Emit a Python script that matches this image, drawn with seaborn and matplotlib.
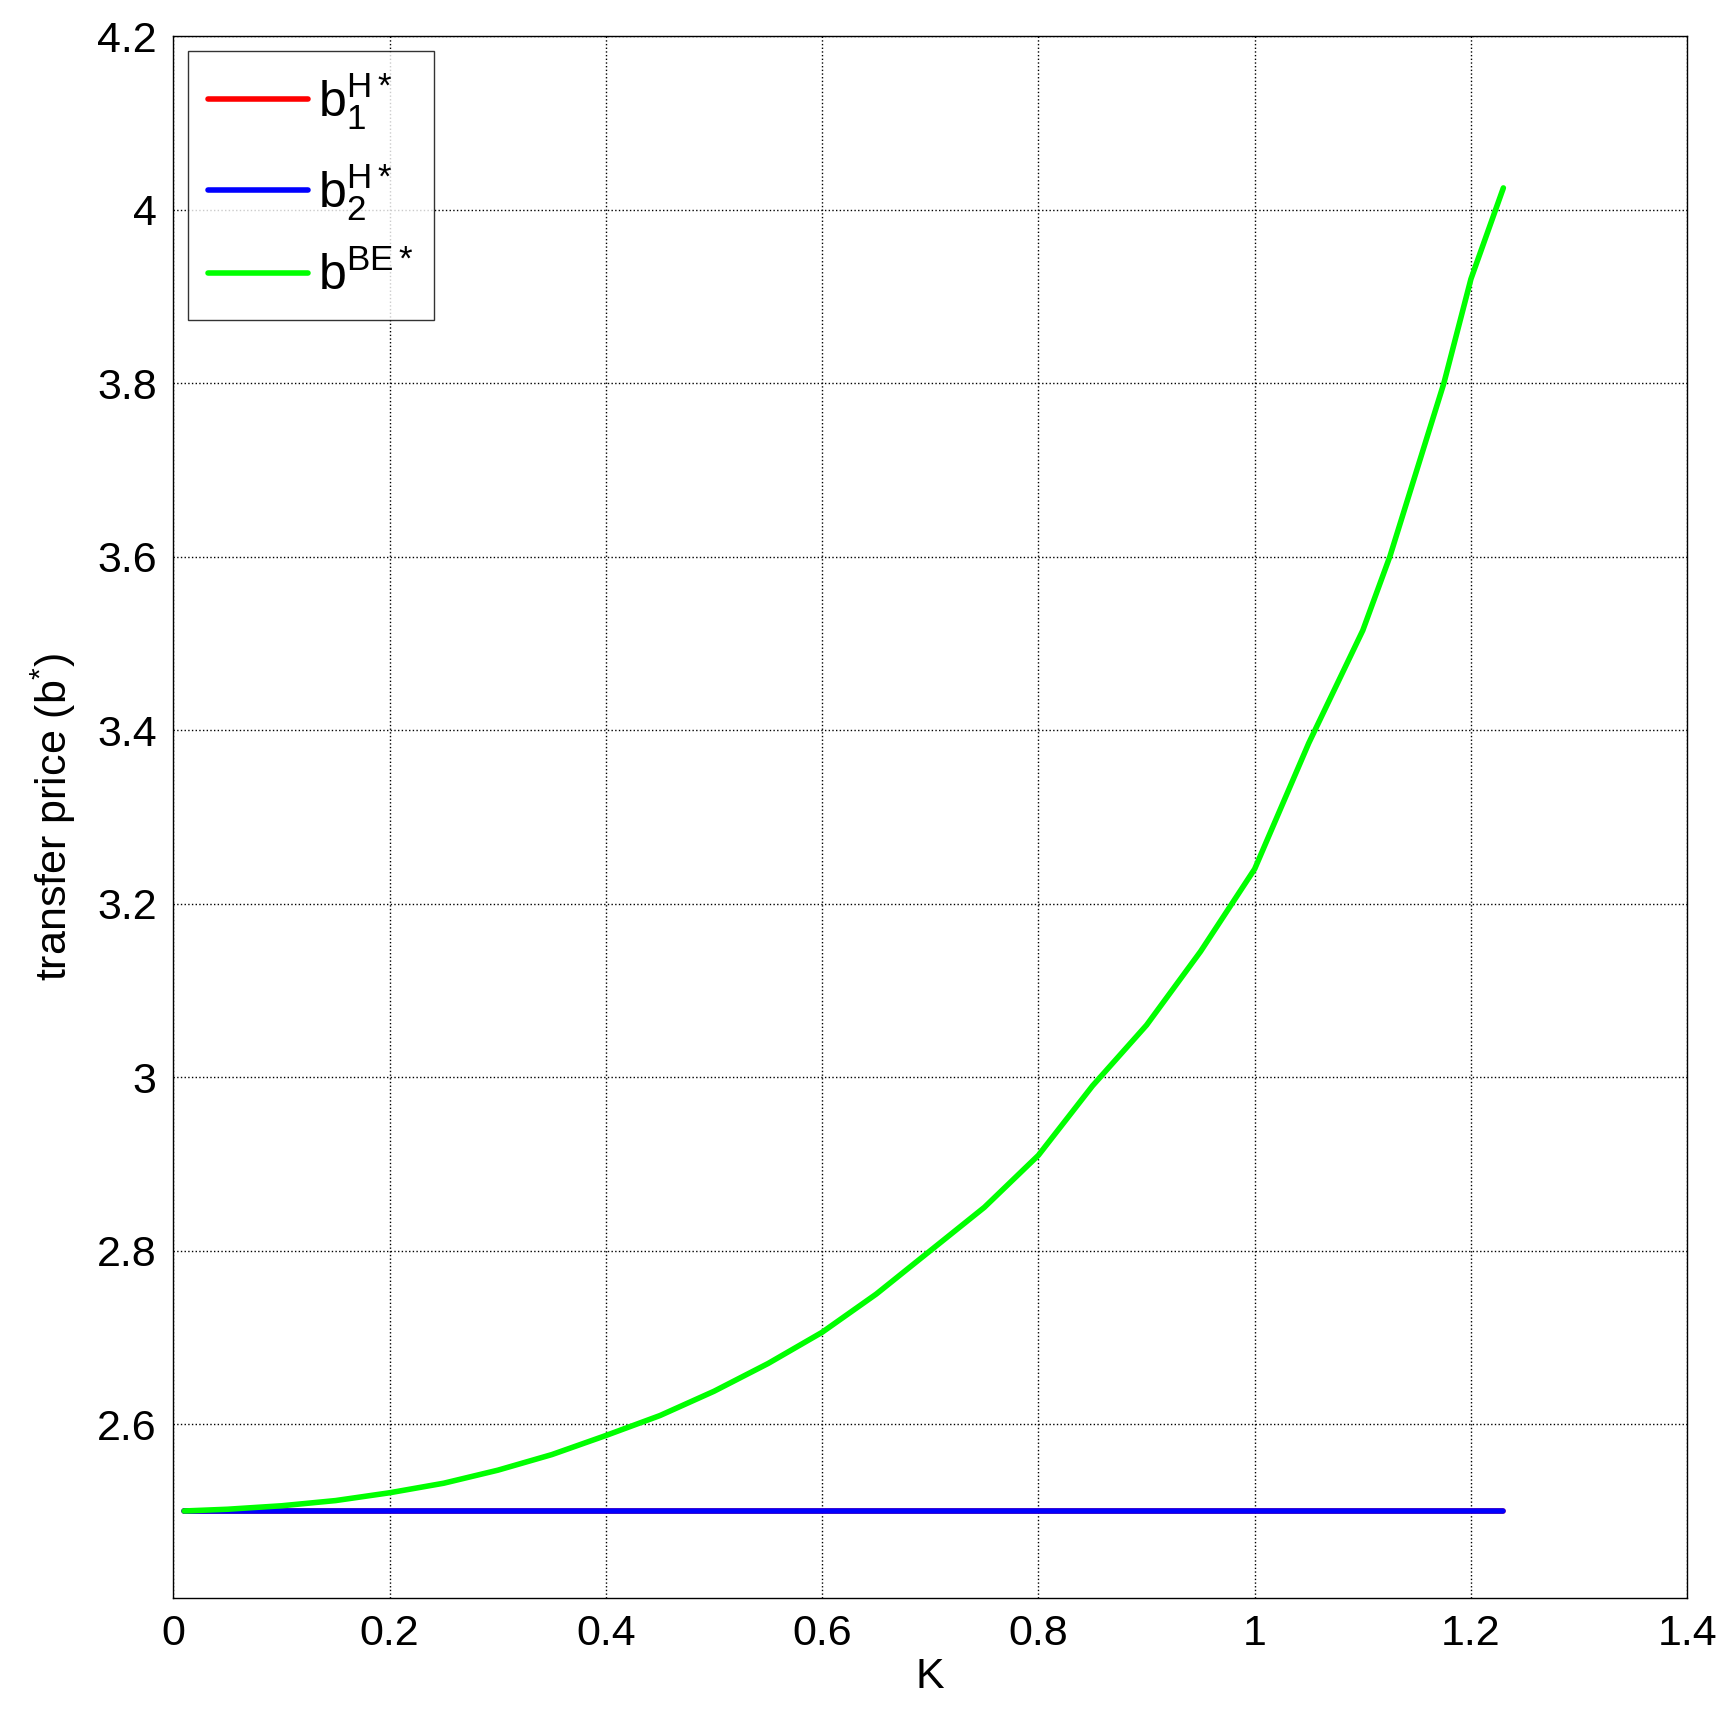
import numpy as np
import seaborn as sns
from matplotlib import pyplot as plt

# values
k = [0.01, 0.05, 0.1, 0.15, 0.2, 0.25, 0.3, 0.35, 0.4, 0.45, 0.5, 0.55, 0.6, 0.65,
     0.7, 0.75, 0.8, 0.85, 0.9, 0.95, 1.0, 1.05, 1.1, 1.125, 1.15, 1.175, 1.2, 1.23]
b_be = [2.5, 2.502, 2.506, 2.512, 2.521, 2.532, 2.547, 2.565, 2.587, 2.61, 2.638, 2.67,
        2.706, 2.75, 2.80, 2.85, 2.91, 2.99, 3.06, 3.145, 3.24, 3.385, 3.515, 3.60,
        3.70, 3.80, 3.92, 4.025]
b1_h = [2.5] * len(k)
b2_h = [2.5] * len(k)

sns.set_style('white')
plt.rcParams['font.family'] = ['Liberation Sans', 'DejaVu Sans']
plt.rcParams['mathtext.fontset'] = 'custom'
plt.rcParams['mathtext.rm'] = 'Liberation Sans'
plt.rcParams['mathtext.it'] = 'Liberation Sans'
plt.rcParams['text.color'] = 'black'
plt.rcParams['axes.labelcolor'] = 'black'
plt.rcParams['xtick.color'] = 'black'
plt.rcParams['ytick.color'] = 'black'

fig = plt.figure(figsize=(17.34, 17.18), dpi=100)
ax = fig.add_axes([0.1, 0.07, 0.873, 0.909])

sns.lineplot(x=k, y=b1_h, color='#ff0000', lw=4, label=r'$\mathregular{b_1^{H*}}$', ax=ax)
sns.lineplot(x=k, y=b2_h, color='#0000ff', lw=4, label=r'$\mathregular{b_2^{H*}}$', ax=ax)
sns.lineplot(x=k, y=b_be, color='#00ff00', lw=4, label=r'$\mathregular{b^{BE*}}$', ax=ax)

ax.set_xlim(0, 1.4)
ax.set_ylim(2.4, 4.2)
ax.set_xticks(np.arange(0, 1.41, 0.2))
ax.set_xticklabels(['0', '0.2', '0.4', '0.6', '0.8', '1', '1.2', '1.4'])
ax.set_yticks([2.6, 2.8, 3.0, 3.2, 3.4, 3.6, 3.8, 4.0, 4.2])
ax.set_yticklabels(['2.6', '2.8', '3', '3.2', '3.4', '3.6', '3.8', '4', '4.2'])
ax.grid(True, color='black', linestyle=':', linewidth=1)
ax.tick_params(labelsize=31, direction='in', length=8, pad=12)
for s in ax.spines.values():
    s.set_color('black')
    s.set_linewidth(1)
ax.set_xlabel('K', fontsize=31, labelpad=2)
ax.set_ylabel(r'transfer price (b$^{\mathregular{*}}$)', fontsize=31, labelpad=14)

leg = ax.legend(loc='upper left', fontsize=36, frameon=True, fancybox=False,
                handlelength=2, handletextpad=0.2, borderaxespad=0.3, labelspacing=0.6)
leg.get_frame().set_edgecolor('black')

fig.savefig('out.png', dpi=100)
